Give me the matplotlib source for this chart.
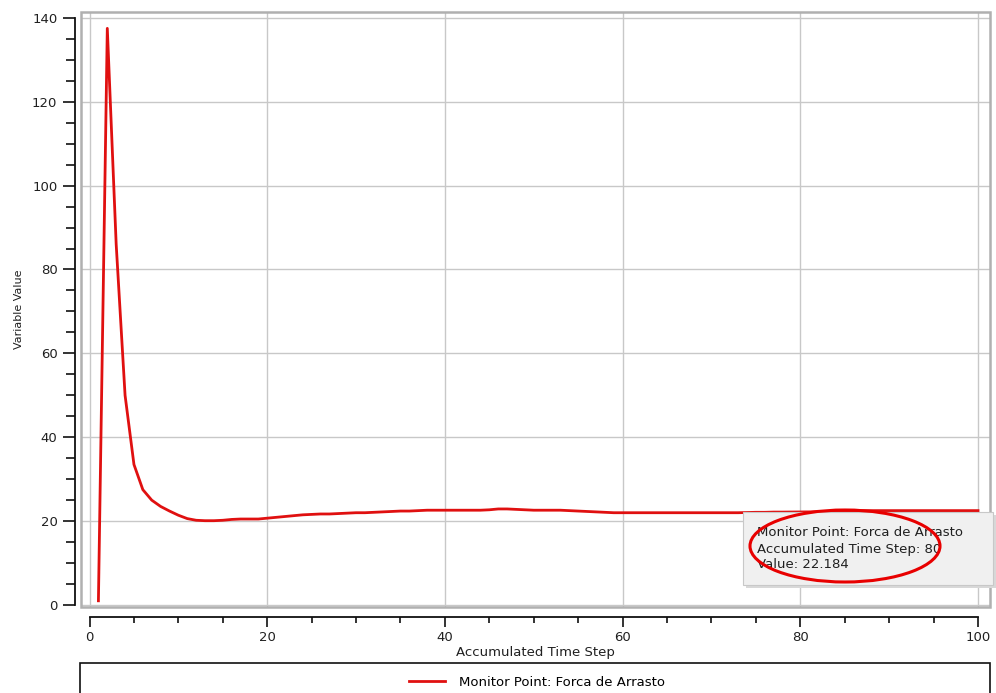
import numpy as np
import matplotlib
matplotlib.use("Agg")
import matplotlib.pyplot as plt
from matplotlib.patches import Rectangle, Ellipse
from matplotlib.ticker import MultipleLocator

# monitor point history
time_step = list(range(1, 101))
drag_force = [
    1.0, 137.5, 86.0, 50.0, 33.5, 27.5, 25.0, 23.5, 22.4, 21.4,
    20.6, 20.2, 20.1, 20.1, 20.2, 20.4, 20.5, 20.5, 20.5, 20.7,
    20.9, 21.1, 21.3, 21.5, 21.6, 21.7, 21.7, 21.8, 21.9, 22.0,
    22.0, 22.1, 22.2, 22.3, 22.4, 22.4, 22.5, 22.6, 22.6, 22.6,
    22.6, 22.6, 22.6, 22.6, 22.7, 22.9, 22.9, 22.8, 22.7, 22.6,
    22.6, 22.6, 22.6, 22.5, 22.4, 22.3, 22.2, 22.1, 22.0, 22.0,
    22.0, 22.0, 22.0, 22.0, 22.0, 22.0, 22.0, 22.0, 22.0, 22.0,
    22.0, 22.0, 22.0, 22.05, 22.1, 22.1, 22.15, 22.15, 22.17, 22.184,
    22.2, 22.25, 22.3, 22.35, 22.4, 22.45, 22.5, 22.5, 22.5, 22.5,
    22.5, 22.5, 22.5, 22.5, 22.5, 22.5, 22.5, 22.5, 22.5, 22.5,
]
series_name = "Monitor Point: Forca de Arrasto"
probe_step = 80
probe_value = 22.184

W, H = 996, 693
fig = plt.figure(figsize=(W / 100, H / 100), dpi=100)
fig.patch.set_facecolor("white")

def px(x0, y0, w, h):
    """pixel box (top-left origin) -> figure fraction"""
    return [x0 / W, 1 - (y0 + h) / H, w / W, h / H]

ax = fig.add_axes(px(81, 12, 909, 595))
ax.plot(time_step, drag_force, color="#e01010", lw=2.0, solid_joinstyle="round")

ax.set_xlim(-0.96, 101.35)
ax.set_ylim(-0.48, 141.4)
ax.xaxis.set_major_locator(MultipleLocator(20))
ax.xaxis.set_minor_locator(MultipleLocator(5))
ax.yaxis.set_major_locator(MultipleLocator(20))
ax.yaxis.set_minor_locator(MultipleLocator(5))
ax.grid(True, which="major", color="#c8c8c8", lw=1.0)
ax.set_axisbelow(True)

for s in ["top", "right"]:
    ax.spines[s].set_visible(False)
ax.spines["left"].set_position(("outward", 4.5))
ax.spines["bottom"].set_position(("outward", 7))
ax.spines["left"].set_bounds(0, 140)
ax.spines["bottom"].set_bounds(0, 100)
for s in ["left", "bottom"]:
    ax.spines[s].set_linewidth(1.3)
    ax.spines[s].set_color("#101010")

ax.tick_params(which="major", length=9, width=1.2, color="#101010",
               labelsize=9.5, labelcolor="#202020")
ax.tick_params(which="minor", length=6.5, width=1.2, color="#101010")
ax.tick_params(axis="x", which="minor", length=4)
ax.tick_params(axis="x", which="major", length=7.5, pad=3)

ax.set_xlabel("Accumulated Time Step", fontsize=9.5, color="#202020", labelpad=1)
ax.set_ylabel("Variable Value", fontsize=8, color="#202020", labelpad=6)

# gray frame round the plot area
ax.add_patch(Rectangle((0, 0), 1, 1, transform=ax.transAxes, fill=False,
                       edgecolor="#b0b0b0", lw=1.8, clip_on=False, zorder=5))

# legend box at the bottom
fig.patches.append(Rectangle((80 / W, -0.05), 910 / W, 1 - 663 / H + 0.05,
                             transform=fig.transFigure, fill=False,
                             edgecolor="#101010", lw=1.2))
fig.legend(ax.lines, [series_name], loc="center",
           bbox_to_anchor=(537 / W, 1 - 682 / H), frameon=False,
           fontsize=9.5, handlelength=2.7, handletextpad=1.1)

# tooltip
tx, ty, tw, th = 743, 512, 250, 73
fig.patches.append(Rectangle((tx / W + 0.003, 1 - (ty + th) / H - 0.005), tw / W, th / H,
                             transform=fig.transFigure, facecolor="#d8d8d8",
                             edgecolor="none", zorder=9))
fig.patches.append(Rectangle((tx / W, 1 - (ty + th) / H), tw / W, th / H,
                             transform=fig.transFigure, facecolor="#f0f0f0",
                             edgecolor="#c8c8c8", lw=0.8, zorder=10))
tip = "%s\nAccumulated Time Step: %d\nValue: %.3f" % (series_name, probe_step, probe_value)
fig.text(757 / W, 1 - 549 / H, tip, fontsize=9.5, color="#202020",
         va="center", ha="left", linespacing=1.3, zorder=11)
fig.patches.append(Ellipse((845 / W, 1 - 546 / H), 190 / W, 72 / H,
                           transform=fig.transFigure, fill=False,
                           edgecolor="#e80000", lw=2.2, zorder=12))

fig.savefig("out.png", dpi=100)
